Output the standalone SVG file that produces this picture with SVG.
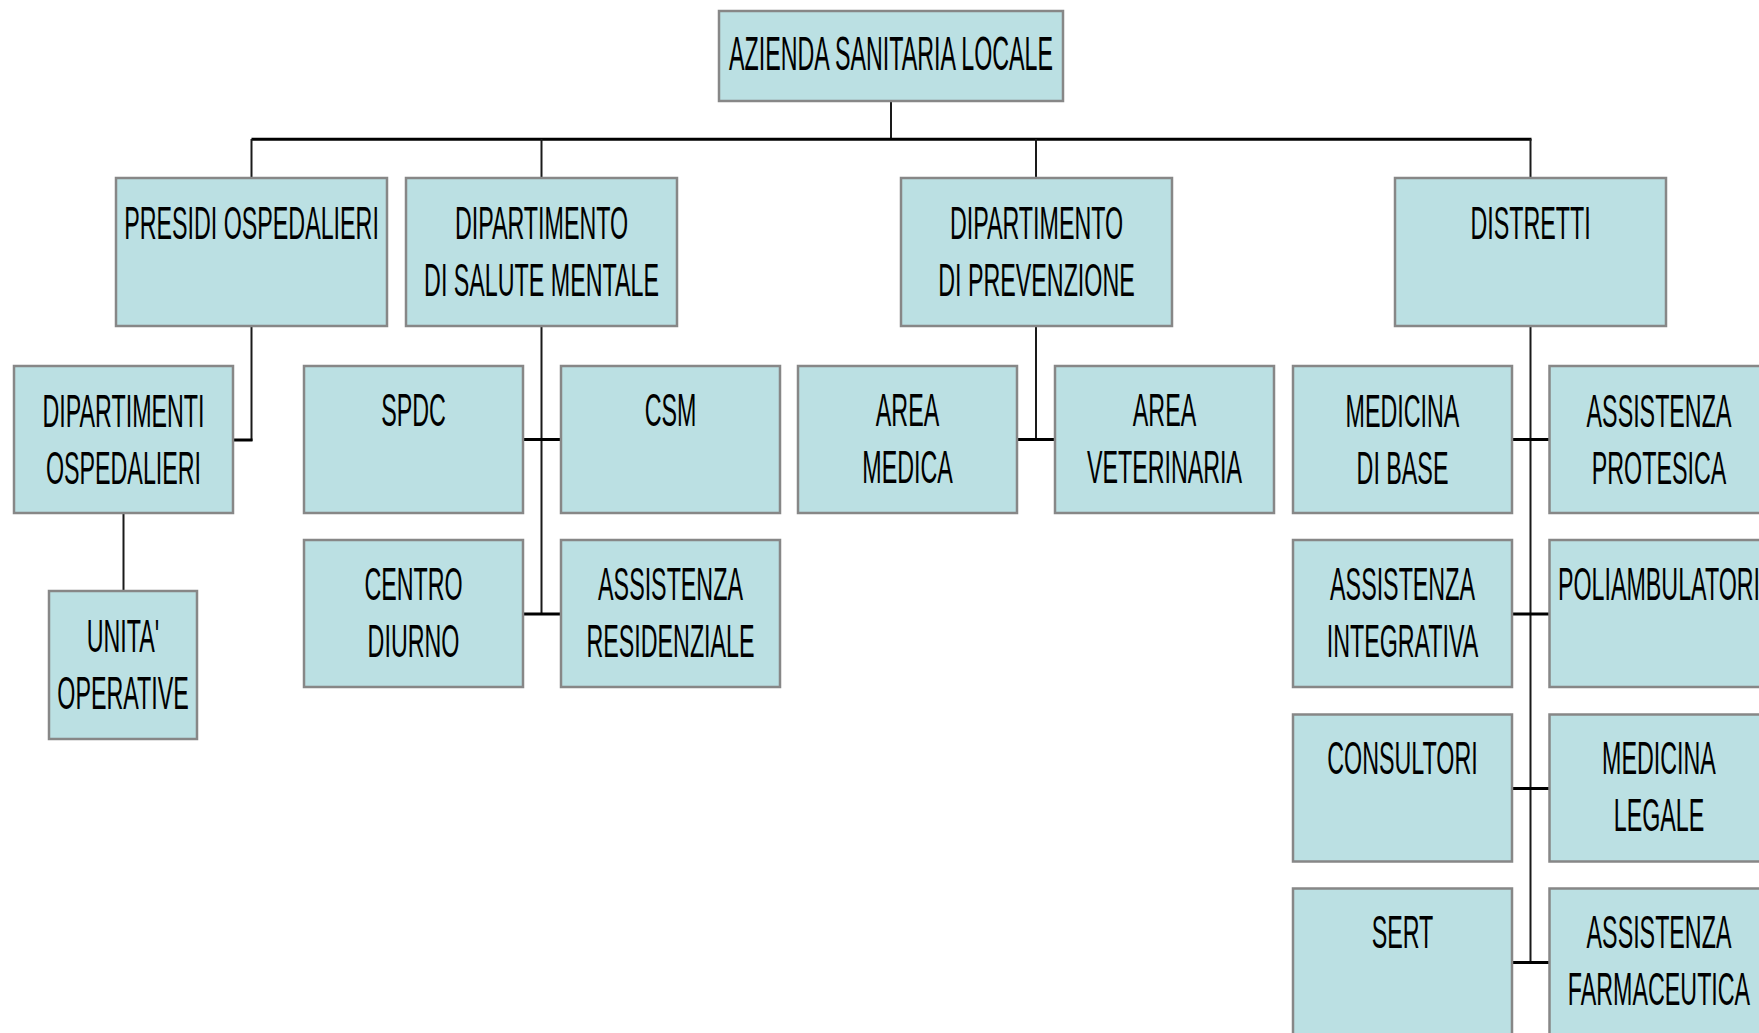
<svg xmlns="http://www.w3.org/2000/svg" width="1759" height="1033" viewBox="0 0 1759 1033">
<style>
.b{fill:#BBE0E3;stroke:#878787;stroke-width:2.5}
.t{font-family:"Liberation Sans",Arial,sans-serif;font-size:46px;fill:#000;text-anchor:middle}
.tt{font-family:"Liberation Sans",Arial,sans-serif;font-size:49px;fill:#000;text-anchor:middle}
.v{stroke:#1a1a1a;stroke-width:2;fill:none}
.h{stroke:#000;stroke-width:3;fill:none}
</style>
<rect width="1759" height="1033" fill="#fff"/>
<g id="connectors">
<line class="v" x1="891" y1="101" x2="891" y2="139"/>
<line class="h" x1="251.5" y1="139.3" x2="1531.5" y2="139.3"/>
<line class="v" x1="251.5" y1="139" x2="251.5" y2="178"/>
<line class="v" x1="541.5" y1="139" x2="541.5" y2="178"/>
<line class="v" x1="1036" y1="139" x2="1036" y2="178"/>
<line class="v" x1="1530.5" y1="139" x2="1530.5" y2="178"/>
<line class="v" x1="251.5" y1="326" x2="251.5" y2="441"/>
<line class="h" x1="233" y1="440" x2="252.5" y2="440"/>
<line class="v" x1="123.5" y1="513" x2="123.5" y2="591"/>
<line class="v" x1="541.5" y1="326" x2="541.5" y2="614"/>
<line class="h" x1="523" y1="439.5" x2="561" y2="439.5"/>
<line class="h" x1="523" y1="614" x2="561" y2="614"/>
<line class="v" x1="1036" y1="326" x2="1036" y2="439.5"/>
<line class="h" x1="1017" y1="439.5" x2="1055" y2="439.5"/>
<line class="v" x1="1530.5" y1="326" x2="1530.5" y2="962.5"/>
<line class="h" x1="1512" y1="439.5" x2="1549.5" y2="439.5"/>
<line class="h" x1="1512" y1="614" x2="1549.5" y2="614"/>
<line class="h" x1="1512" y1="788.5" x2="1549.5" y2="788.5"/>
<line class="h" x1="1512" y1="962.5" x2="1549.5" y2="962.5"/>
</g>
<g id="asl"><rect class="b" x="719" y="11" width="344" height="90"/><text class="tt" transform="translate(891 70) scale(0.475 1)">AZIENDA SANITARIA LOCALE</text></g>
<g id="presidi"><rect class="b" x="116" y="178" width="271" height="148"/><text class="t" transform="translate(251.5 239) scale(0.506 1)">PRESIDI OSPEDALIERI</text></g>
<g id="dsm"><rect class="b" x="406" y="178" width="271" height="148"/><text class="t" transform="translate(541.5 239) scale(0.506 1)"><tspan x="0" y="0">DIPARTIMENTO</tspan><tspan x="0" y="57">DI SALUTE MENTALE</tspan></text></g>
<g id="dp"><rect class="b" x="901" y="178" width="271" height="148"/><text class="t" transform="translate(1036.5 239) scale(0.506 1)"><tspan x="0" y="0">DIPARTIMENTO</tspan><tspan x="0" y="57">DI PREVENZIONE</tspan></text></g>
<g id="distretti"><rect class="b" x="1395" y="178" width="271" height="148"/><text class="t" transform="translate(1530.5 239) scale(0.506 1)">DISTRETTI</text></g>
<g id="diposp"><rect class="b" x="14" y="366" width="219" height="147"/><text class="t" transform="translate(123.5 427) scale(0.506 1)"><tspan x="0" y="0">DIPARTIMENTI</tspan><tspan x="0" y="57">OSPEDALIERI</tspan></text></g>
<g id="unita"><rect class="b" x="49" y="591" width="148" height="148"/><text class="t" transform="translate(123 652) scale(0.506 1)"><tspan x="0" y="0">UNITA'</tspan><tspan x="0" y="57">OPERATIVE</tspan></text></g>
<g id="spdc"><rect class="b" x="304" y="366" width="219" height="147"/><text class="t" transform="translate(413.5 426) scale(0.506 1)">SPDC</text></g>
<g id="csm"><rect class="b" x="561" y="366" width="219" height="147"/><text class="t" transform="translate(670.5 426) scale(0.506 1)">CSM</text></g>
<g id="centro"><rect class="b" x="304" y="540" width="219" height="147"/><text class="t" transform="translate(413.5 600) scale(0.506 1)"><tspan x="0" y="0">CENTRO</tspan><tspan x="0" y="57">DIURNO</tspan></text></g>
<g id="assres"><rect class="b" x="561" y="540" width="219" height="147"/><text class="t" transform="translate(670.5 600) scale(0.506 1)"><tspan x="0" y="0">ASSISTENZA</tspan><tspan x="0" y="57">RESIDENZIALE</tspan></text></g>
<g id="areamed"><rect class="b" x="798" y="366" width="219" height="147"/><text class="t" transform="translate(907.5 426) scale(0.506 1)"><tspan x="0" y="0">AREA</tspan><tspan x="0" y="57">MEDICA</tspan></text></g>
<g id="areavet"><rect class="b" x="1055" y="366" width="219" height="147"/><text class="t" transform="translate(1164.5 426) scale(0.506 1)"><tspan x="0" y="0">AREA</tspan><tspan x="0" y="57">VETERINARIA</tspan></text></g>
<g id="medbase"><rect class="b" x="1293" y="366" width="219" height="147"/><text class="t" transform="translate(1402.5 427) scale(0.506 1)"><tspan x="0" y="0">MEDICINA</tspan><tspan x="0" y="57">DI BASE</tspan></text></g>
<g id="assprot"><rect class="b" x="1549.5" y="366" width="219" height="147"/><text class="t" transform="translate(1659 427) scale(0.506 1)"><tspan x="0" y="0">ASSISTENZA</tspan><tspan x="0" y="57">PROTESICA</tspan></text></g>
<g id="assint"><rect class="b" x="1293" y="540" width="219" height="147"/><text class="t" transform="translate(1402.5 600) scale(0.506 1)"><tspan x="0" y="0">ASSISTENZA</tspan><tspan x="0" y="57">INTEGRATIVA</tspan></text></g>
<g id="poliamb"><rect class="b" x="1549.5" y="540" width="219" height="147"/><text class="t" transform="translate(1659 600) scale(0.506 1)">POLIAMBULATORI</text></g>
<g id="consultori"><rect class="b" x="1293" y="714.5" width="219" height="147"/><text class="t" transform="translate(1402.5 774) scale(0.506 1)">CONSULTORI</text></g>
<g id="medleg"><rect class="b" x="1549.5" y="714.5" width="219" height="147"/><text class="t" transform="translate(1659 774) scale(0.506 1)"><tspan x="0" y="0">MEDICINA</tspan><tspan x="0" y="57">LEGALE</tspan></text></g>
<g id="sert"><rect class="b" x="1293" y="888.5" width="219" height="147"/><text class="t" transform="translate(1402.5 948) scale(0.506 1)">SERT</text></g>
<g id="assfarm"><rect class="b" x="1549.5" y="888.5" width="219" height="147"/><text class="t" transform="translate(1659 948) scale(0.506 1)"><tspan x="0" y="0">ASSISTENZA</tspan><tspan x="0" y="57">FARMACEUTICA</tspan></text></g>
</svg>
